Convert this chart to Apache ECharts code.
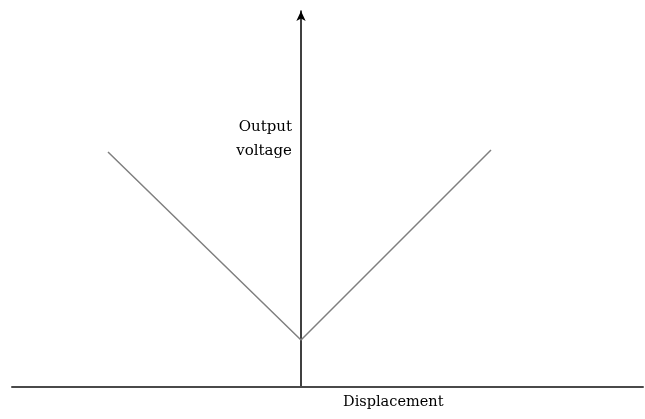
<!DOCTYPE html>
<html>
<head>
<meta charset="utf-8">
<script src="https://cdn.jsdelivr.net/npm/echarts@6/dist/echarts.min.js"></script>
<style>
  html, body { margin: 0; padding: 0; background: #fff; }
  #chart { width: 645px; height: 419px; }
</style>
</head>
<body>
<div id="chart"></div>
<script>
// displacement (x) and output voltage (y), arbitrary units
const displacement = [-1.93, 0, 1.9];
const outputVoltage = [2.35, 0.47, 2.37];
const xLabel = 'Displacement';
const yLabel = ['Output', 'voltage'];

const chart = echarts.init(document.getElementById('chart'), null, { renderer: 'canvas' });

const font = '"DejaVu Serif", serif';

chart.setOption({
  animation: false,
  grid: { left: 12, right: 2, top: 11, bottom: 32 },
  xAxis: {
    type: 'value',
    min: -2.89,
    max: 3.42,
    axisLine: { onZero: true, lineStyle: { color: '#4a4a4a', width: 2 } },
    axisTick: { show: false },
    axisLabel: { show: false },
    splitLine: { show: false }
  },
  yAxis: {
    type: 'value',
    min: 0,
    max: 3.76,
    axisLine: {
      show: true,
      onZero: true,
      symbol: ['none', 'arrow'],
      symbolSize: [7, 10],
      lineStyle: { color: '#000', width: 1.5 }
    },
    axisTick: { show: false },
    axisLabel: { show: false },
    splitLine: { show: false }
  },
  series: [{
    type: 'line',
    data: displacement.map((x, i) => [x, outputVoltage[i]]),
    showSymbol: false,
    lineStyle: { color: '#7f7f7f', width: 1.5 },
    z: 1
  }],
  graphic: [
    {
      type: 'text',
      right: 645 - 292,
      top: 115,
      style: { text: yLabel.join('\n'), font: '15px ' + font, fill: '#000', textAlign: 'right', lineHeight: 24 }
    },
    {
      type: 'text',
      left: 343,
      top: 395,
      style: { text: xLabel, font: '14.5px ' + font, fill: '#000' }
    }
  ]
});
</script>
</body>
</html>
